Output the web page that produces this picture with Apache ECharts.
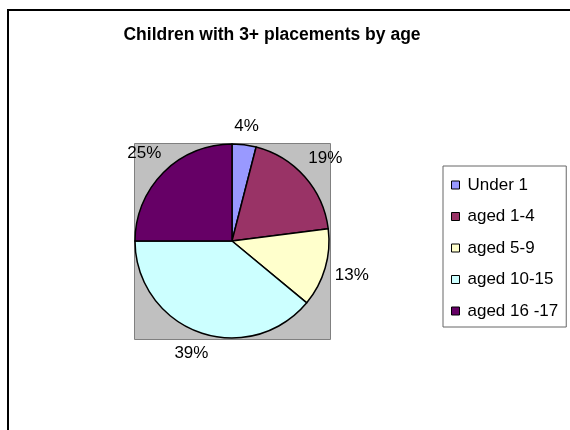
<!DOCTYPE html>
<html>
<head>
<meta charset="utf-8">
<script src="https://cdn.jsdelivr.net/npm/echarts@6/dist/echarts.min.js"></script>
<style>
  html, body { margin: 0; padding: 0; background: #fff; }
  #chart { width: 570px; height: 430px; }
</style>
</head>
<body>
<div id="chart"></div>
<script>
const ageGroups = ['Under 1', 'aged 1-4', 'aged 5-9', 'aged 10-15', 'aged 16 -17']
const shares = [4, 19, 13, 39, 25]
const sliceColors = ['#9999FF', '#993366', '#FFFFCC', '#CCFFFF', '#660066']

const fontFamily = '"Liberation Sans", Arial, sans-serif'
const chart = echarts.init(document.getElementById('chart'))

// excel-ish label placement: push the label box out along the slice's mid angle
// until its nearest edge sits a small gap off the rim
const placeLabel = (params) => {
  const pts = params.labelLinePoints
  if (!pts) return {}
  const dx = pts[1][0] - pts[0][0]
  const dy = pts[1][1] - pts[0][1]
  const len = Math.sqrt(dx * dx + dy * dy) || 1
  const ux = dx / len
  const uy = dy / len
  const w = params.labelRect.width
  const h = params.labelRect.height
  const t = 9 + Math.abs(ux) * w / 2 + Math.abs(uy) * h / 2
  return {
    x: pts[0][0] + ux * t,
    y: pts[0][1] + uy * t,
    align: 'center',
    verticalAlign: 'middle'
  }
}

const option = {
  backgroundColor: '#fff',
  animation: false,
  textStyle: { fontFamily },
  title: {
    text: 'Children with 3+ placements by age',
    left: 267,
    top: 21,
    textAlign: 'center',
    textStyle: {
      fontSize: 17.5,
      fontWeight: 'bold',
      color: '#000',
      fontFamily
    }
  },
  graphic: [
    {
      type: 'polyline',
      shape: { points: [[8, 430], [8, 10], [570, 10]] },
      style: { stroke: '#000', lineWidth: 2, fill: null }
    },
    {
      type: 'rect',
      shape: { x: 134.5, y: 143.5, width: 196, height: 196 },
      style: { fill: '#C0C0C0', stroke: '#808080', lineWidth: 1 }
    }
  ],
  legend: {
    orient: 'vertical',
    left: 443,
    top: 166,
    padding: [9, 8, 6, 8],
    itemWidth: 8,
    itemHeight: 8,
    itemGap: 11.5,
    icon: 'rect',
    borderColor: '#666',
    borderWidth: 1,
    itemStyle: { borderColor: '#000', borderWidth: 1 },
    textStyle: {
      fontSize: 17,
      lineHeight: 20,
      color: '#000',
      padding: [0, 0, 0, 3],
      fontFamily
    },
    data: ageGroups
  },
  series: [
    {
      type: 'pie',
      center: [232, 241],
      radius: 97,
      startAngle: 90,
      clockwise: true,
      avoidLabelOverlap: false,
      data: ageGroups.map((name, i) => ({
        name,
        value: shares[i],
        itemStyle: { color: sliceColors[i] }
      })),
      itemStyle: { borderColor: '#000', borderWidth: 1.5 },
      emphasis: { disabled: true },
      label: {
        show: true,
        position: 'outside',
        formatter: (p) => Math.round(p.percent) + '%',
        fontSize: 17,
        color: '#000',
        fontFamily
      },
      labelLine: { show: true, length: 10, length2: 0, lineStyle: { opacity: 0 } },
      labelLayout: placeLabel
    }
  ]
}

chart.setOption(option)
window.addEventListener('resize', () => {
  chart.resize()
})
</script>
</body>
</html>
